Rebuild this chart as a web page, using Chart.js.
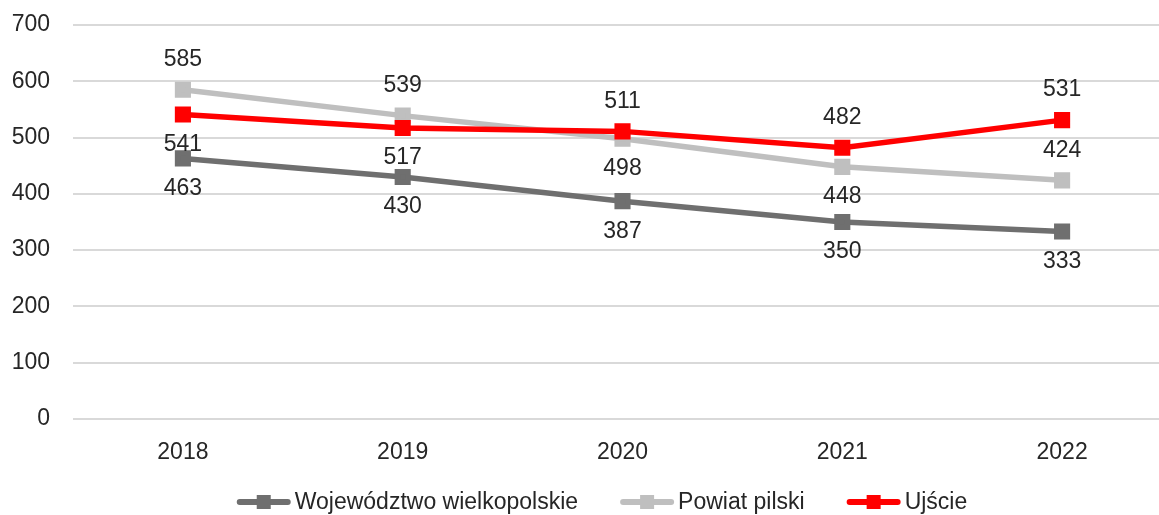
<!DOCTYPE html>
<html>
<head>
<meta charset="utf-8">
<script src="https://cdn.jsdelivr.net/npm/chart.js@4.4.1/dist/chart.umd.min.js"></script>
<style>
  html, body { margin: 0; padding: 0; background: #fff; overflow: hidden; }
  #wrap { width: 1159px; height: 515px; overflow: hidden; }
</style>
</head>
<body>
<div id="wrap"><canvas id="wykres" width="1185" height="515"></canvas></div>
<script>
const lata = ['2018', '2019', '2020', '2021', '2022'];
const wielkopolskie = [463, 430, 387, 350, 333];
const pilski = [585, 539, 498, 448, 424];
const ujscie = [541, 517, 511, 482, 531];
const osY = [0, 100, 200, 300, 400, 500, 600, 700];

// gdzie etykieta: nad (-1) albo pod (1) punktem
const polozenieEtykiet = [
    [1, 1, 1, 1, 1],
    [-1, -1, 1, 1, -1],
    [1, 1, -1, -1, -1]
];

const czcionka = '"Liberation Sans", Arial, sans-serif';
const rozmiar = 23;
const kolorTekstu = '#262626';

const etykietyDanych = {
    id: 'etykietyDanych',
    afterDatasetsDraw(chart) {
        const ctx = chart.ctx;
        ctx.save();
        ctx.font = rozmiar + 'px ' + czcionka;
        ctx.fillStyle = kolorTekstu;
        ctx.textAlign = 'center';
        ctx.textBaseline = 'middle';
        chart.data.datasets.forEach((ds, i) => {
            const meta = chart.getDatasetMeta(i);
            meta.data.forEach((pt, j) => {
                ctx.fillText(ds.data[j], pt.x, pt.y + polozenieEtykiet[i][j] * 30);
            });
        });
        ctx.restore();
    }
};

const legenda = {
    id: 'legenda',
    afterDraw(chart) {
        const ctx = chart.ctx;
        ctx.save();
        ctx.font = rozmiar + 'px ' + czcionka;
        const linia = 54, odstep = 4, przerwa = 42;
        const szer = chart.data.datasets.map(ds => linia + odstep + ctx.measureText(ds.label).width);
        const calosc = szer.reduce((a, b) => a + b, 0) + przerwa * (szer.length - 1);
        let x = 602 - calosc / 2;
        const y = 502;
        chart.data.datasets.forEach((ds, i) => {
            ctx.strokeStyle = ds.borderColor;
            ctx.lineWidth = 6;
            ctx.lineCap = 'round';
            ctx.beginPath();
            ctx.moveTo(x + 3, y);
            ctx.lineTo(x + linia - 3, y);
            ctx.stroke();
            ctx.fillStyle = ds.borderColor;
            ctx.fillRect(x + linia / 2 - 7, y - 7, 14, 14);
            ctx.fillStyle = kolorTekstu;
            ctx.textAlign = 'left';
            ctx.textBaseline = 'middle';
            ctx.fillText(ds.label, x + linia + odstep, y + 1);
            x += szer[i] + przerwa;
        });
        ctx.restore();
    }
};

function seria(nazwa, dane, kolor, kolejnosc) {
    return {
        label: nazwa,
        data: dane,
        borderColor: kolor,
        backgroundColor: kolor,
        borderWidth: 5.5,
        pointStyle: 'rect',
        pointRadius: 7.5,
        pointHoverRadius: 7.5,
        pointBackgroundColor: kolor,
        pointBorderColor: kolor,
        tension: 0,
        fill: false,
        order: kolejnosc
    };
}

new Chart(document.getElementById('wykres').getContext('2d'), {
    type: 'line',
    data: {
        labels: lata,
        datasets: [
            seria('Województwo wielkopolskie', wielkopolskie, '#6f6f6f', 2),
            seria('Powiat pilski', pilski, '#bfbfbf', 1),
            seria('Ujście', ujscie, '#ff0000', 0)
        ]
    },
    options: {
        responsive: false,
        animation: false,
        devicePixelRatio: 1,
        layout: { padding: { top: 25, right: 12, bottom: 50, left: 10 } },
        plugins: {
            legend: { display: false },
            tooltip: { enabled: false }
        },
        scales: {
            x: {
                offset: true,
                grid: { display: false },
                border: { display: false },
                afterFit(axis) {
                    axis.height = 46;
                    axis.paddingLeft = 0;
                    axis.paddingRight = 0;
                },
                ticks: {
                    color: kolorTekstu,
                    font: { family: czcionka, size: rozmiar },
                    padding: 12
                }
            },
            y: {
                min: osY[0],
                max: osY[osY.length - 1],
                afterBuildTicks(axis) {
                    axis.ticks = osY.map(v => ({ value: v }));
                },
                afterFit(axis) {
                    axis.width = 63;
                    axis.paddingTop = 0;
                    axis.paddingBottom = 0;
                },
                grid: { color: '#d9d9d9', lineWidth: 2, drawTicks: false },
                border: { display: false },
                ticks: {
                    color: kolorTekstu,
                    font: { family: czcionka, size: rozmiar },
                    padding: 23
                }
            }
        }
    },
    plugins: [etykietyDanych, legenda]
});
</script>
</body>
</html>
